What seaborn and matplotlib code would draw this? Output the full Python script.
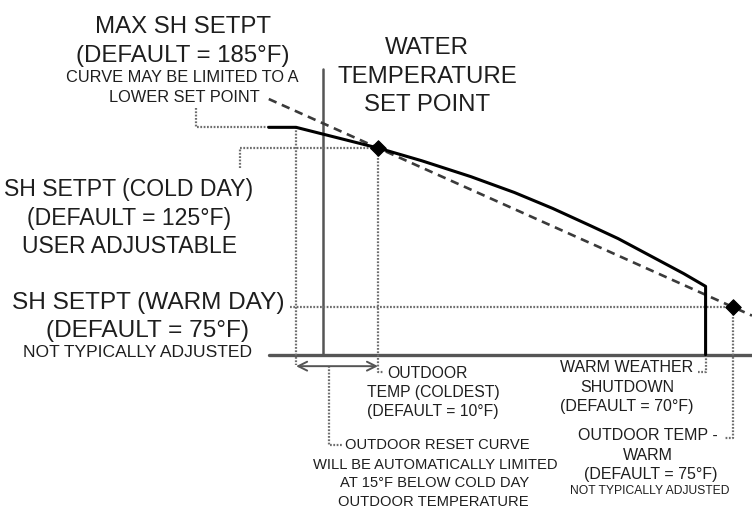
import matplotlib
matplotlib.use("Agg")
import matplotlib.pyplot as plt
import seaborn as sns
import pandas as pd

# Outdoor reset curve: outdoor temperature (°F) vs. water set point (°F)
outdoor_f = [-10, -5, 10, 18, 27, 35, 42, 49, 54, 60, 66, 70, 70]
setpoint_f = [131.5, 131.5, 125, 121, 116, 111, 106, 100.5, 96.5, 91, 85.5, 81.5, 60]

# Straight reset line through the two design points
ref_outdoor_f = [-10, 78.5]
ref_setpoint_f = [140.4, 72.3]

# Design points: cold day and warm day
design_outdoor_f = [10, 75]
design_setpoint_f = [125, 75]

# Axis frame of the diagram
axis_base_f = 60      # water temp where the horizontal axis sits
axis_top_f = 150      # top of the vertical axis
axis_left_f = -10
axis_right_f = 78.5
cold_limit_f = -5     # 15°F below cold day outdoor temp
shutdown_f = 70

sns.set_theme(style="white")
plt.rcParams["font.family"] = ["Liberation Sans", "DejaVu Sans"]

W, H = 752, 508
fig = plt.figure(figsize=(W / 100, H / 100), dpi=100)
ax = fig.add_axes([0, 0, 1, 1])
ax.set_xlim(-59.23, 78.50)
ax.set_ylim(11.8, 171.54)
ax.axis("off")

TXT = "#1e1e1e"
GUIDE = "#6e6e6e"
dot = dict(color=GUIDE, lw=1.6, ls=(0, (0.8, 0.7)), solid_capstyle="butt")

# axes of the diagram
ax.plot([axis_left_f, axis_right_f], [axis_base_f, axis_base_f], color="#555555", lw=2.4)
ax.plot([0, 0], [axis_base_f, axis_top_f], color="#555555", lw=1.8)

# dotted leader / guide lines
ax.plot([-23.3, -23.3, -10], [137.6, 131.5, 131.5], **dot)
ax.plot([-15.3, -15.3, 10], [118.7, 125, 125], **dot)
ax.plot([-6.2, 75], [75, 75], **dot)
ax.plot([cold_limit_f, cold_limit_f], [131.5, 56.8], **dot)
ax.plot([10, 10, 10.9], [125, 54.6, 54.6], **dot)
ax.plot([1.0, 1.0, 3.6], [56.4, 31.6, 31.6], **dot)
ax.plot([75, 75, 73.4], [75, 33.8, 33.8], **dot)
ax.plot([shutdown_f, shutdown_f, 68.6], [60, 54.6, 54.6], **dot)

# double arrow for the cold-day limit span
ax.annotate("", xy=(cold_limit_f, 56.4), xytext=(10, 56.4),
            arrowprops=dict(arrowstyle="<->", color="#555555", lw=1.4,
                            mutation_scale=16, shrinkA=0, shrinkB=0))

# dashed straight reset line
sns.lineplot(x=ref_outdoor_f, y=ref_setpoint_f, ax=ax, color="#3a3a3a", lw=1.9,
             linestyle=(0, (3.2, 2.2)), sort=False, estimator=None)

# actual reset curve
curve = pd.DataFrame({"outdoor": outdoor_f, "setpoint": setpoint_f})
sns.lineplot(data=curve, x="outdoor", y="setpoint", ax=ax, color="black", lw=2.2,
             sort=False, estimator=None)

# design points
sns.scatterplot(x=design_outdoor_f, y=design_setpoint_f, ax=ax, marker="D",
                s=62, color="black", edgecolor="black", linewidth=0.8, zorder=5)


def label(px, py, s, size):
    fig.text(px / W, 1 - py / H, s, ha="center", va="baseline",
             fontsize=size, color=TXT)


BIG = 17.3
label(183, 33, "MAX SH SETPT", BIG)
label(183, 62, "(DEFAULT = 185°F)", BIG)
label(182, 82, "CURVE MAY BE LIMITED TO A", 11.8)
label(184, 102, "LOWER SET POINT", 11.8)

label(427, 54, "WATER", BIG)
label(427, 83, "TEMPERATURE", BIG)
label(427, 111, "SET POINT", BIG)

label(129, 196, "SH SETPT (COLD DAY)", 16.6)
label(129, 225, "(DEFAULT = 125°F)", 16.6)
label(129, 253, "USER ADJUSTABLE", 16.6)

label(148, 309, "SH SETPT (WARM DAY)", 17.6)
label(148, 337, "(DEFAULT = 75°F)", 17.6)
label(138, 357, "NOT TYPICALLY ADJUSTED", 12.6)

label(427, 378, "OUTDOOR", 11.3)
label(433, 397, "TEMP (COLDEST)", 11.3)
label(433, 416, "(DEFAULT = 10°F)", 11.3)

label(437, 449, "OUTDOOR RESET CURVE", 10.6)
label(435, 469, "WILL BE AUTOMATICALLY LIMITED", 10.6)
label(435, 487, "AT 15°F BELOW COLD DAY", 10.6)
label(433, 506, "OUTDOOR TEMPERATURE", 10.6)

label(627, 372, "WARM WEATHER", 11.5)
label(627, 392, "SHUTDOWN", 11.5)
label(627, 411, "(DEFAULT = 70°F)", 11.5)

label(648, 440, "OUTDOOR TEMP -", 11.5)
label(648, 460, "WARM", 11.5)
label(651, 479, "(DEFAULT = 75°F)", 11.5)
label(650, 494, "NOT TYPICALLY ADJUSTED", 8.7)

fig.savefig("out.png", dpi=100)
